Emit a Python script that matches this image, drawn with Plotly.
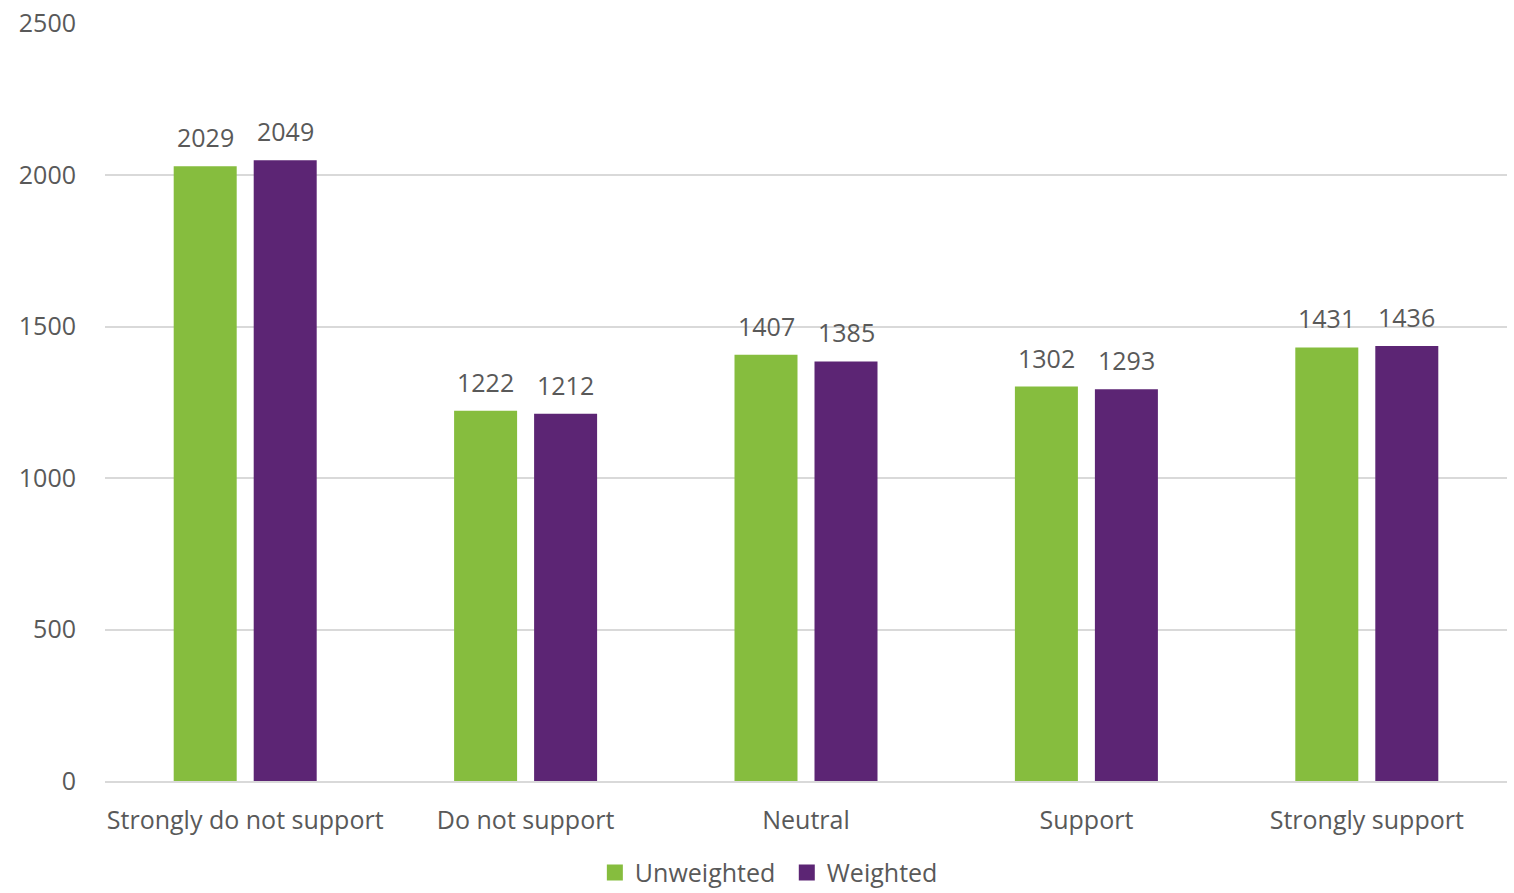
import plotly.graph_objects as go

categories = ["Strongly do not support", "Do not support", "Neutral", "Support", "Strongly support"]
unweighted = [2029, 1222, 1407, 1302, 1431]
weighted = [2049, 1212, 1385, 1293, 1436]
series = [("Unweighted", unweighted, "#86BD3E", -40), ("Weighted", weighted, "#5C2574", 40)]

TEXT = "#595959"
FONT = "Open Sans"
FS = 25

fig = go.Figure()
for name, vals, color, shift in series:
    fig.add_trace(go.Bar(name=name, x=categories, y=vals, marker_color=color,
                         marker_line_width=0, showlegend=False))
    for c, v in zip(categories, vals):
        fig.add_annotation(x=c, y=v, text=str(v), showarrow=False, xshift=shift,
                           yanchor="bottom", yshift=10,
                           font=dict(size=FS, color=TEXT, family=FONT))
for name, vals, color, shift in series:
    fig.add_trace(go.Scatter(name=name + " ", x=[None], y=[None], mode="markers",
                             marker=dict(symbol="square", size=17, color=color)))

fig.update_layout(
    width=1514, height=893,
    margin=dict(l=105, r=7, t=23, b=112, autoexpand=False),
    plot_bgcolor="white", paper_bgcolor="white",
    barmode="group", bargap=0.4294, bargroupgap=0.2125,
    font=dict(family=FONT, size=FS, color=TEXT),
    showlegend=True,
    legend=dict(orientation="h", x=0.476, xanchor="center", y=-0.121, yanchor="middle",
                font=dict(size=FS, color=TEXT, family=FONT), itemwidth=30,
                traceorder="normal", tracegroupgap=0),
    xaxis=dict(showgrid=False, showline=True, linecolor="#D9D9D9", linewidth=2,
               ticks="", ticklabelstandoff=16, tickfont=dict(size=FS, color=TEXT),
               automargin=False),
    yaxis=dict(range=[0, 2502], tickvals=[0, 500, 1000, 1500, 2000, 2500],
               showgrid=True, gridcolor="#D9D9D9", gridwidth=1.5,
               zeroline=False, showline=False, ticks="", ticklabelstandoff=28,
               tickfont=dict(size=FS, color=TEXT), automargin=False),
)

fig.write_html("out.html")
